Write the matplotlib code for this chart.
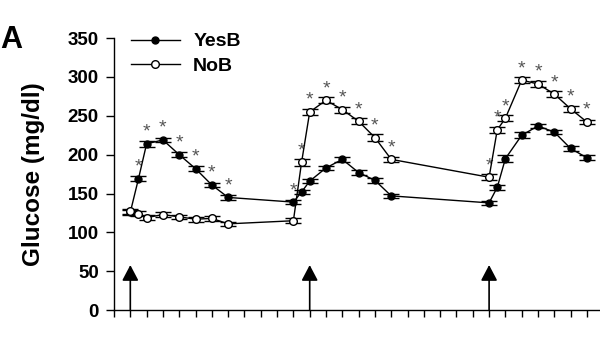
import matplotlib.pyplot as plt
from matplotlib.lines import Line2D

plt.rcParams['font.family'] = ['Liberation Sans', 'DejaVu Sans']

# sampling times (axis units), three meal periods
time_pts = [1, 1.5, 2, 3, 4, 5, 6, 7,
            11, 11.5, 12, 13, 14, 15, 16, 17,
            23, 23.5, 24, 25, 26, 27, 28, 29]

yesb = [126, 169, 214, 219, 200, 182, 161, 145,
        139, 152, 166, 183, 194, 177, 167, 147,
        138, 158, 195, 225, 237, 229, 208, 196]
yesb_err = [3, 3, 4, 3, 3, 3, 3, 3,
            3, 3, 3, 3, 3, 3, 3, 3,
            3, 3, 4, 4, 3, 3, 3, 3]

nob = [127, 124, 119, 123, 120, 117, 118, 111,
       115, 190, 255, 270, 258, 243, 222, 194,
       171, 232, 247, 296, 291, 278, 259, 242]
nob_err = [3, 3, 3, 3, 3, 3, 3, 3,
           3, 4, 4, 4, 4, 4, 4, 3,
           4, 4, 4, 4, 4, 4, 4, 3]

# time points flagged as significant, by the series they sit above
stars_yesb = [1.5, 2, 3, 4, 5, 6, 7, 11]
stars_nob = [11.5, 12, 13, 14, 15, 16, 17,
             23, 23.5, 24, 25, 26, 27, 28, 29]

meal_times = [1, 12, 23]
x_ticks = list(range(0, 30))
y_ticks = [0, 50, 100, 150, 200, 250, 300, 350]

fig = plt.figure(figsize=(6, 3.5), dpi=100)
ax = fig.add_axes([0.19, 0.114, 0.81, 0.777])

ax.errorbar(time_pts, yesb, yerr=yesb_err, fmt='-o', color='black',
            mfc='black', mec='black', ms=5, lw=1, elinewidth=1,
            capsize=5.5, capthick=1, zorder=3)
ax.errorbar(time_pts, nob, yerr=nob_err, fmt='-o', color='black',
            mfc='white', mec='black', ms=5.5, mew=1, lw=1, elinewidth=1,
            capsize=5.5, capthick=1, zorder=3)

lookup_y = dict(zip(time_pts, yesb))
lookup_n = dict(zip(time_pts, nob))
for t in stars_yesb:
    ax.text(t, lookup_y[t] + 4, '*', ha='center', va='bottom',
            fontsize=14, color='#555555')
for t in stars_nob:
    ax.text(t, lookup_n[t] + 4, '*', ha='center', va='bottom',
            fontsize=14, color='#555555')

# meal arrows
for t in meal_times:
    ax.annotate('', xy=(t, 58), xytext=(t, 0),
                arrowprops=dict(arrowstyle='-|>,head_length=0.95,head_width=0.5',
                                color='black', lw=1.2, shrinkA=0, shrinkB=0))

ax.set_xlim(0, 29.8)
ax.set_ylim(0, 350)
ax.set_xticks(x_ticks)
ax.set_xticklabels([])
ax.set_yticks(y_ticks)
ax.set_yticklabels([str(v) for v in y_ticks], fontsize=13.5, fontweight='bold')
ax.tick_params(axis='y', length=6, width=1, pad=5)
ax.tick_params(axis='x', length=5, width=1)

for side in ['top', 'right']:
    ax.spines[side].set_visible(False)
ax.spines['left'].set_linewidth(1)
ax.spines['bottom'].set_linewidth(1)

ax.set_ylabel('Glucose (mg/dl)', fontsize=17.5, fontweight='bold')
ax.yaxis.set_label_coords(-0.142, 0.5)

handles = [
    Line2D([], [], color='black', marker='o', mfc='black', ms=5, lw=1),
    Line2D([], [], color='black', marker='o', mfc='white', ms=5.5, lw=1),
]
ax.legend(handles, ['YesB', 'NoB'], loc='upper left',
          bbox_to_anchor=(0.035, 1.02), frameon=False,
          prop={'weight': 'bold', 'size': 14}, handlelength=2.5,
          handletextpad=0.7, borderpad=0, borderaxespad=0, labelspacing=0.35)

fig.text(0.0, 0.885, 'A', fontsize=22, fontweight='bold', ha='left', va='center')

fig.savefig('out.png', dpi=100)
